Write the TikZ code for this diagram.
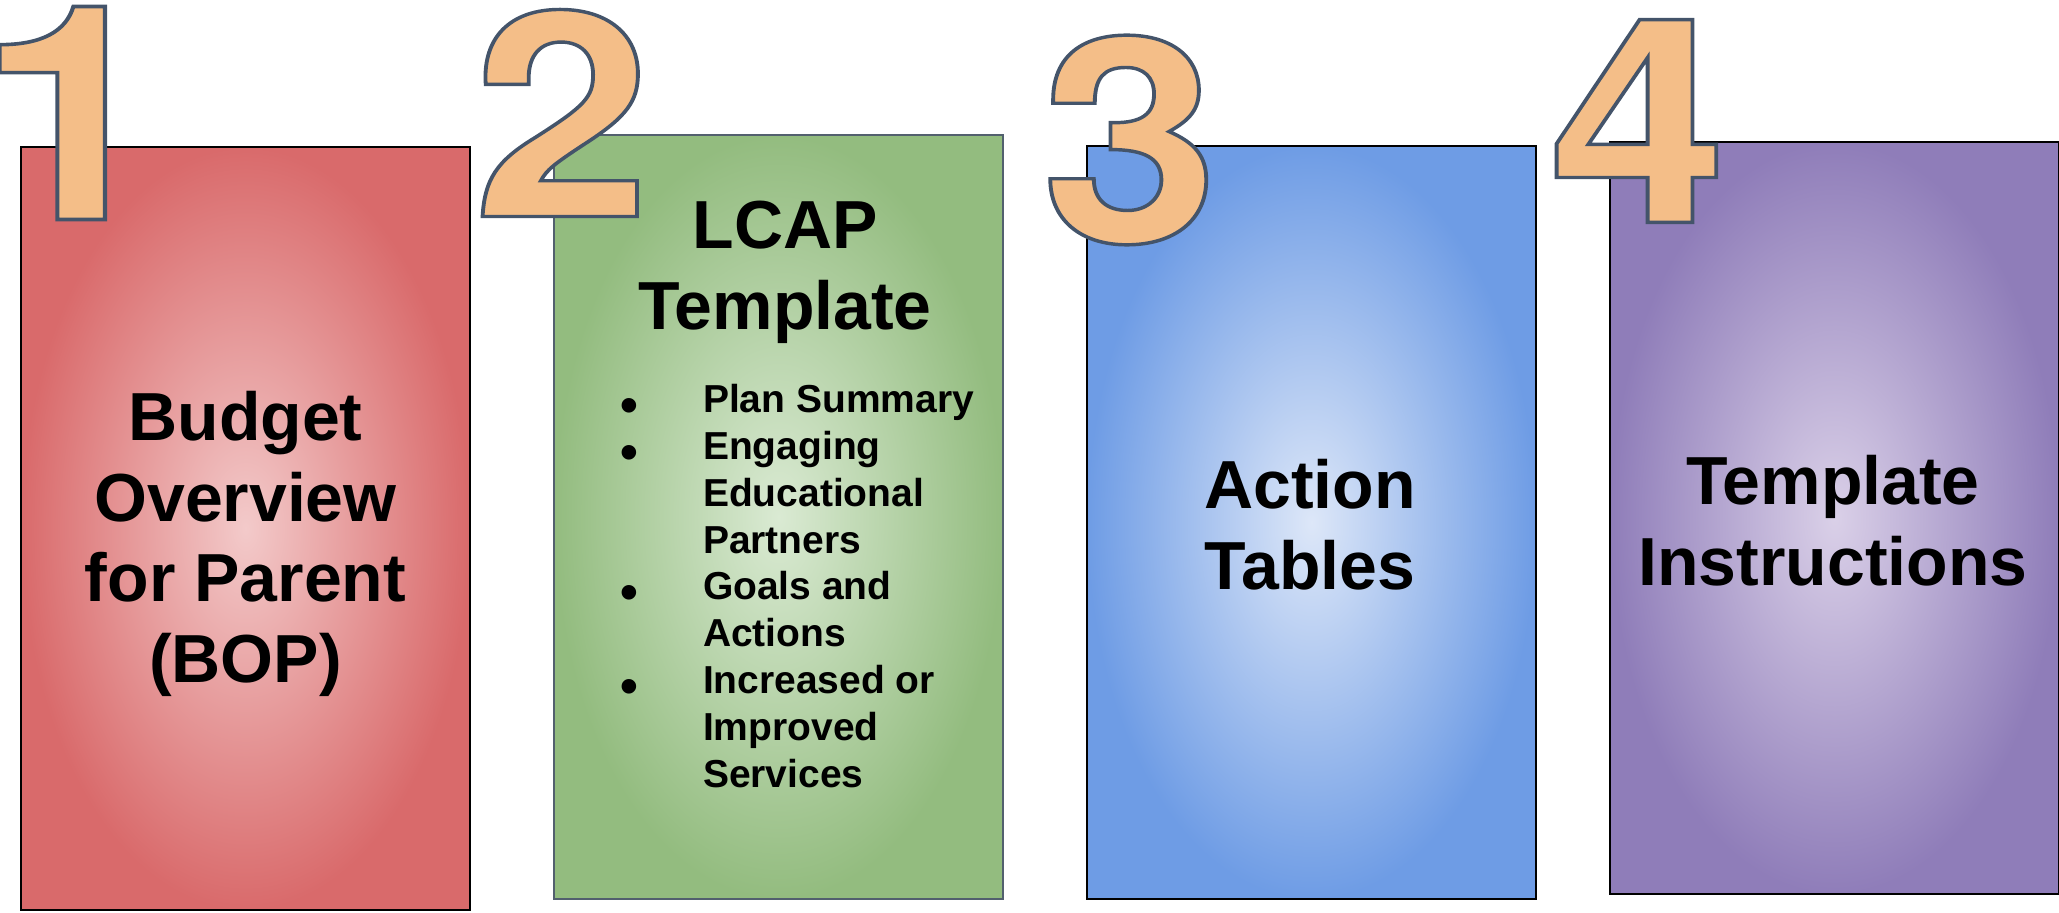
\documentclass[tikz,border=0pt]{standalone}
\usepackage{fontspec}
\setmainfont{Liberation Sans}
\newfontfamily\numfont[FakeBold=1.2]{texgyreheros-bold.otf}
\usetikzlibrary{positioning}

\definecolor{bopred}{HTML}{D96A6B}
\definecolor{boplight}{HTML}{F3CACA}
\definecolor{lcapgreen}{HTML}{93BC7F}
\definecolor{lcaplight}{HTML}{DAEAD3}
\definecolor{actblue}{HTML}{6E9CE5}
\definecolor{actlight}{HTML}{DDE7F8}
\definecolor{instpurple}{HTML}{8F7DB9}
\definecolor{instlight}{HTML}{DAD0E8}
\definecolor{numorange}{HTML}{F4BE88}
\definecolor{lcapedge}{HTML}{52606E}

% stroke colour for the outlined numerals
\newcommand\numedgestroke{\special{pdf:code 0.267 0.329 0.416 RG}}
% list bullet, a bit larger and lower than \textbullet
\newcommand\itembullet{\raisebox{-5pt}{\scalebox{1.3}{\textbullet}}}

\begin{document}
\begin{tikzpicture}[x=0.5pt,y=-0.5pt]
        \tikzstyle{every node}=[inner sep=0pt, outer sep=0pt]
        \tikzstyle{panel}=[draw=black, line width=0.9pt, minimum width=224.5pt]
        \tikzstyle{title}=[align=center, font=\bfseries\fontsize{34}{40.4}\selectfont]
        \tikzstyle{items}=[font=\bfseries\fontsize{19.5}{23.4}\selectfont]
        \tikzstyle{numeral}=[text=numorange, transform shape, font=\numfont\fontsize{143}{143}\selectfont]

        \useasboundingbox (0,0) rectangle (2059,913);

        % the four panels
        \node[panel, minimum height=381.5pt, shade, inner color=boplight, outer color=bopred] (bop) at (245.5,528.5) {};
        \node[panel, minimum height=382pt, draw=lcapedge, line width=0.6pt, shade, inner color=lcaplight, outer color=lcapgreen] (lcap) at (778.5,517) {};
        \node[panel, minimum height=376.5pt, shade, inner color=actlight, outer color=actblue] (act) at (1311.5,522.5) {};
        \node[panel, minimum height=376pt, shade, inner color=instlight, outer color=instpurple] (inst) at (1834.5,518) {};

        % panel texts
        \node[title] (bop text)  at (245.5,544) {Budget\\Overview\\for Parent\\(BOP)};
        \node[title] (lcap text) at (785,272)   {LCAP\\Template};
        \node[items, anchor=north west] (lcap list) at (620,380) {%
            \begin{tabular}{@{}p{41.5pt}@{}l@{}}
            \itembullet & Plan Summary\\
            \itembullet & Engaging\\
                        & Educational\\
                        & Partners\\
            \itembullet & Goals and\\
                        & Actions\\
            \itembullet & Increased or\\
                        & Improved\\
                        & Services
            \end{tabular}};
        \node[title] (act text)  at (1310,525)  {Action\\Tables};
        \node[title] (inst text) at (1833,521)  {Template\\Instructions};

        % outlined numerals
        \node[numeral, xscale=1.19, yscale=1.05] (one) at (71,113) {\numedgestroke 1};
        \node[numeral, xscale=1.12] (two)   at (562,113)  {\numedgestroke 2};
        \node[numeral, xscale=1.12] (three) at (1130,140) {\numedgestroke 3};
        \node[numeral, xscale=1.12] (four)  at (1638,121) {\numedgestroke 4};
\end{tikzpicture}
\end{document}
